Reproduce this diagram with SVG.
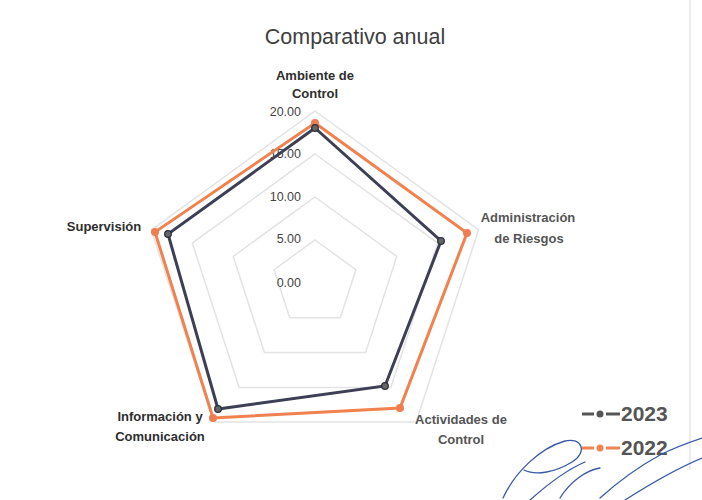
<svg xmlns="http://www.w3.org/2000/svg" width="702" height="500" viewBox="0 0 702 500">
<style>
.title{font-family:"Liberation Sans",Arial,sans-serif;font-size:21.5px;fill:#404040}
.cat{font-family:"Liberation Sans",Arial,sans-serif;font-size:13px;font-weight:bold;fill:#2e2e2e;text-anchor:middle}
.catg{fill:#555}
.tick{font-family:"Liberation Sans",Arial,sans-serif;font-size:12.5px;fill:#444;text-anchor:end}
.leg{font-family:"Liberation Sans",Arial,sans-serif;font-size:21px;font-weight:bold;fill:#555}
.grid{fill:none;stroke:#e3e3e3;stroke-width:1.5}
.s23{fill:none;stroke:#3d3f55;stroke-width:3;stroke-linejoin:miter}
.s22{fill:none;stroke:#f0824f;stroke-width:3;stroke-linejoin:miter}
.m23{fill:#666;stroke:#2e3040;stroke-width:1.3}
.m22{fill:#ee7d50}
.sig{fill:none;stroke:#3a5aa8;stroke-width:1.3;stroke-linecap:round}
</style>
<rect width="702" height="500" fill="#fff"/>
<line x1="690" y1="0" x2="690" y2="470" stroke="#e6e6e6" stroke-width="1.5"/>
<text class="title" x="355" y="44" text-anchor="middle">Comparativo anual</text>
<g id="grid">
<polygon class="grid" points="315,111 478.6,229.9 416.1,422.1 213.9,422.1 151.4,229.9"/>
<polygon class="grid" points="315,154 437.7,243.1 390.8,387.4 239.2,387.4 192.3,243.1"/>
<polygon class="grid" points="315,197 396.8,256.4 365.6,352.6 264.4,352.6 233.2,256.4"/>
<polygon class="grid" points="315,240 355.9,269.7 340.3,317.8 289.7,317.8 274.1,269.7"/>
</g>
<g id="ticks">
<text class="tick" x="301" y="116">20.00</text>
<text class="tick" x="301" y="158">15.00</text>
<text class="tick" x="301" y="201">10.00</text>
<text class="tick" x="301" y="243">5.00</text>
<text class="tick" x="301" y="287">0.00</text>
</g>
<g id="labels">
<g id="ambiente"><text class="cat" x="315" y="80">Ambiente de</text><text class="cat" x="315" y="98">Control</text></g>
<g id="administracion"><text class="cat catg" x="528" y="222">Administración</text><text class="cat catg" x="529" y="243">de Riesgos</text></g>
<g id="actividades"><text class="cat catg" x="461" y="424">Actividades de</text><text class="cat catg" x="461" y="444">Control</text></g>
<g id="informacion"><text class="cat" x="160" y="421">Información y</text><text class="cat" x="160" y="441">Comunicación</text></g>
<g id="supervision"><text class="cat" x="104" y="231">Supervisión</text></g>
</g>
<g id="connectors">
<polygon class="s22" points="315,123 467,233 400,408 213,418 155,232"/>
<polygon class="s23" points="315,128 441,241 385,386 218,409 168,234"/>
</g>
<g id="markers">
<circle class="m22" cx="315" cy="123" r="4"/><circle class="m22" cx="467" cy="233" r="4"/><circle class="m22" cx="400" cy="408" r="4"/><circle class="m22" cx="213" cy="418" r="4"/><circle class="m22" cx="155" cy="232" r="4"/>
<circle class="m23" cx="315" cy="128" r="3.3"/><circle class="m23" cx="441" cy="241" r="3.3"/><circle class="m23" cx="385" cy="386" r="3.3"/><circle class="m23" cx="218" cy="409" r="3.3"/><circle class="m23" cx="168" cy="234" r="3.3"/>
</g>
<g id="legend">
<line x1="582" y1="414" x2="594" y2="414" stroke="#555" stroke-width="3"/>
<line x1="606" y1="414" x2="620" y2="414" stroke="#555" stroke-width="3"/>
<circle cx="600" cy="414" r="3.5" fill="#555"/>
<text class="leg" x="621" y="421">2023</text>
<line x1="582" y1="448" x2="594" y2="448" stroke="#f0824f" stroke-width="3"/>
<line x1="606" y1="448" x2="620" y2="448" stroke="#f0824f" stroke-width="3"/>
<circle cx="600" cy="448" r="3.5" fill="#f0824f"/>
<text class="leg" x="621" y="455">2022</text>
</g>
<g id="signature">
<path class="sig" d="M503,498 C515,472 540,448 565,441 C582,437 588,452 572,462 C556,472 536,476 524,470"/>
<path class="sig" d="M530,500 C548,484 566,470 585,462 M560,498 C570,482 586,470 600,468"/>
<path class="sig" d="M600,498 C620,480 640,466 660,455 C675,447 690,442 702,438"/>
<path class="sig" d="M625,500 C650,484 678,468 702,458"/>
</g>
</svg>
